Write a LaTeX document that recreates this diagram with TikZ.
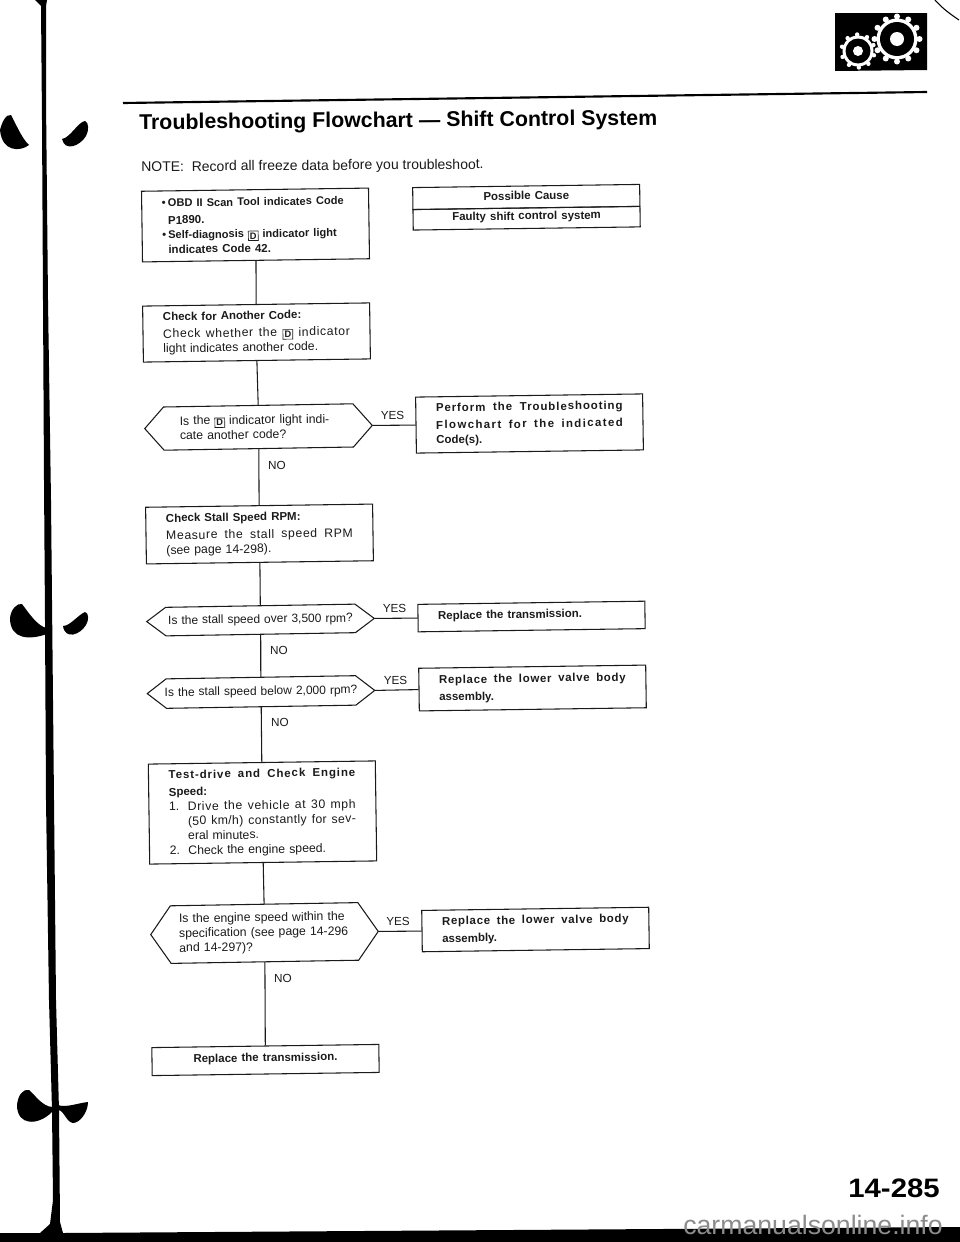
\documentclass[tikz,border=0pt]{standalone}
\usepackage{fontspec}
\setmainfont{Liberation Sans}
\definecolor{ink}{HTML}{1A1A1A}
\newcommand{\DB}{{\setlength{\fboxsep}{0.9pt}\setlength{\fboxrule}{0.5pt}\raisebox{-1pt}{\fbox{\fontsize{7}{7}\selectfont\bfseries D}}}}
\newcommand{\HD}[1]{{\fontsize{8.6}{11}\selectfont\bfseries #1}}
\newcommand{\JL}[3][140pt]{\makebox[#1][s]{\spaceskip=0pt\relax\addfontfeature{LetterSpace=#2}#3}}
\newcommand{\BT}{\makebox[4.5pt][l]{\textbullet}}
\newcommand{\hexa}[2]{\draw[link] (#1.west) -- ([xshift=#2]#1.north west) -- ([xshift=-#2]#1.north east) -- (#1.east) -- ([xshift=-#2]#1.south east) -- ([xshift=#2]#1.south west) -- cycle;}
\tikzset{
  bodyfont/.style={font=\fontsize{9.2}{11}\selectfont},
  boxnode/.style={draw=ink,line width=0.8pt,rectangle,rotate=0.8,minimum width=170.25pt,text width=140pt,inner xsep=15.1pt,inner ysep=0pt,align=left,bodyfont,text=ink,execute at begin node={\vspace*{2pt}}},
  hexnode/.style={rectangle,rotate=0.8,minimum width=170.25pt,inner xsep=0pt,inner ysep=0pt,align=left,bodyfont,text=ink},
  link/.style={draw=ink,line width=0.8pt},
  tag/.style={font=\fontsize{8.8}{10}\selectfont,text=ink,inner sep=0pt},
  blob/.style={fill=black,draw=none}
}
\begin{document}
\begin{tikzpicture}[x=0.75pt,y=-0.75pt]
\useasboundingbox (0,0) rectangle (960,1242);
% spine and base
\fill[black] (35,0) -- (47,0) -- (46,6) -- (46,100) -- (48,300) -- (51,500) -- (53,700) -- (56,1000) -- (59,1110) -- (60,1222) -- (63,1233) -- (960,1227) -- (960,1242) -- (0,1242) -- (0,1233) -- (40,1233) -- (50,1224) -- (53,1200) -- (52,1110) -- (49,1000) -- (46,800) -- (45,620) -- (44,480) -- (43,300) -- (42,120) -- (41,6) -- cycle;
\fill[blob] (0,130) .. controls (2,122) and (6,114) .. (11,115) .. controls (15,122) and (22,139) .. (29,145) .. controls (20,152) and (2,152) .. (0,130) -- cycle;
\fill[blob] (62,139) .. controls (70,138) and (78,122) .. (85,121) .. controls (89,122) and (89,131) .. (86,136) .. controls (80,146) and (65,152) .. (62,139) -- cycle;
\fill[blob] (10,618) .. controls (11,609) and (17,603) .. (22,604) .. controls (28,612) and (38,627) .. (47,628) -- (47,634) .. controls (30,640) and (10,640) .. (10,618) -- cycle;
\fill[blob] (63,626) .. controls (70,626) and (78,615) .. (85,612) .. controls (89,613) and (89,620) .. (86,625) .. controls (80,635) and (65,640) .. (63,626) -- cycle;
\fill[blob] (17,1105) .. controls (18,1096) and (22,1089) .. (29,1090) .. controls (36,1096) and (42,1106) .. (52,1107) -- (52,1112) .. controls (38,1126) and (17,1126) .. (17,1105) -- cycle;
\fill[blob] (58,1105) .. controls (66,1108) and (78,1103) .. (88,1102) .. controls (88,1112) and (80,1123) .. (73,1123) .. controls (66,1122) and (64,1110) .. (58,1110) -- cycle;
% corner icon
\fill[black] (835,13) -- (927,13) -- (927,70) -- (835,71) -- cycle;
\fill[white] (897,39) circle (20.5);
\foreach \a in {0,30,...,330} {\fill[white] (897,39) ++(\a:22.5) circle (3);}
\fill[black] (897,39) circle (17);
\fill[white] (897,39) circle (7);
\fill[white] (858,51) circle (15.5);
\foreach \a in {15,51,...,339} {\fill[white] (858,51) ++(\a:16.5) circle (2.2);}
\fill[black] (858,51) circle (12.5);
\fill[white] (858,51) circle (5);
\draw[line width=0.8pt,black] (935,0) .. controls (942,8) and (950,14) .. (959,20);
\draw[line width=1.6pt,black] (123,103) -- (927,92);
% heading
\node[anchor=west,rotate=0.5,inner sep=0pt,font=\fontsize{16}{18}\selectfont\bfseries,text=black] (title) at (139,124) {Troubleshooting Flowchart --- Shift Control System};
\node[anchor=west,rotate=0.45,inner sep=0pt,font=\fontsize{10.5}{12}\selectfont,text=ink] (note) at (141,168) {NOTE:\ \ Record all freeze data before you troubleshoot.};
% boxes
\node[boxnode,minimum height=53pt] (start) at (255.5,225) {\HD{\fontsize{8.3}{11}\selectfont\BT OBD II Scan Tool indicates Code}\\\hspace*{4.5pt}\HD{P1890.}\\\HD{\fontsize{8.3}{11}\selectfont\BT Self-diagnosis \DB\ indicator light}\\\hspace*{4.5pt}\HD{indicates Code 42.}};
\node[boxnode,minimum height=42pt] (another) at (256.5,332.5) {\HD{Check for Another Code:}\\\JL{5}{Check whether the \DB\ indicator}\\light indicates another code.};
\node[hexnode,minimum height=32pt,text width=118pt] (q1) at (258.5,427) {Is the \DB\ indicator light indi-\\cate another code?};
\node[boxnode,minimum height=42pt] (flow) at (529.5,423.5) {\HD{\JL{8}{Perform the Troubleshooting}}\\\HD{\JL{12}{Flowchart for the indicated}}\\\HD{Code(s).}};
\node[boxnode,minimum height=42.5pt] (stall) at (259.5,534) {\HD{Check Stall Speed RPM:}\\\JL{5}{Measure the stall speed RPM}\\(see page 14-298).};
\node[hexnode,minimum height=21pt,text width=150pt,align=center,font=\fontsize{9}{11}\selectfont] (q2) at (260.5,620) {Is the stall speed over 3,500 rpm?};
\node[boxnode,minimum height=20.6pt] (trans1) at (531.5,616.5) {\HD{Replace the transmission.}};
\node[hexnode,minimum height=21.7pt,text width=150pt,align=center,font=\fontsize{9}{11}\selectfont] (q3) at (261,692) {Is the stall speed below 2,000 rpm?};
\node[boxnode,minimum height=32pt] (valve1) at (532.5,688) {\HD{\JL{6}{Replace the lower valve body}}\\\HD{assembly.}};
\node[boxnode,minimum height=75pt] (drive) at (262.5,812.5) {\HD{\JL{8}{Test-drive and Check Engine}}\\\HD{Speed:}\\\makebox[14pt][l]{1.}\JL[126pt]{5}{Drive the vehicle at 30 mph}\\\hspace*{14pt}\JL[126pt]{3}{(50 km/h) constantly for sev-}\\\hspace*{14pt}eral minutes.\\\makebox[14pt][l]{2.}Check the engine speed.};
\node[hexnode,minimum height=42.8pt,text width=128pt] (q4) at (264.5,933) {Is the engine speed within the\\specification (see page 14-296\\and 14-297)?};
\node[boxnode,minimum height=31pt] (valve2) at (535.5,929.5) {\HD{\JL{6}{Replace the lower valve body}}\\\HD{assembly.}};
\node[boxnode,minimum height=21pt,align=center] (trans2) at (265.5,1060) {\HD{Replace the transmission.}};
\node[boxnode,minimum height=16.5pt,align=center] (causehead) at (526.3,197) {\HD{Possible Cause}};
\node[boxnode,minimum height=15.4pt,align=center] (causebody) at (526.6,218.2) {\HD{Faulty shift control system}};
% decision outlines
\hexa{q1}{14.3pt}
\hexa{q2}{14.3pt}
\hexa{q3}{14.3pt}
\hexa{q4}{15pt}
% connectors
\draw[link] (start.south) -- (another.north);
\draw[link] (another.south) -- (q1.north);
\draw[link] (q1.east) -- (flow.west);
\draw[link] (q1.south) -- (stall.north);
\draw[link] (stall.south) -- (q2.north);
\draw[link] (q2.east) -- (trans1.west);
\draw[link] (q2.south) -- (q3.north);
\draw[link] (q3.east) -- (valve1.west);
\draw[link] (q3.south) -- (drive.north);
\draw[link] (drive.south) -- (q4.north);
\draw[link] (q4.east) -- (valve2.west);
\draw[link] (q4.south) -- (trans2.north);
% labels
\node[tag] (y1) at (392.5,415) {YES};
\node[tag] (n1) at (277,465) {NO};
\node[tag] (y2) at (394.5,608) {YES};
\node[tag] (n2) at (279,650) {NO};
\node[tag] (y3) at (395.5,680) {YES};
\node[tag] (n3) at (280,722) {NO};
\node[tag] (y4) at (398,921) {YES};
\node[tag] (n4) at (283,978) {NO};
% page number and watermark
\node[anchor=east,inner sep=0pt,xscale=1.1,font=\fontsize{20}{22}\selectfont\bfseries,text=black] (page) at (940,1188) {14-285};
\node[anchor=east,inner sep=0pt,font=\fontsize{20}{22}\selectfont,text=black!45] (mark) at (943,1225) {carmanualsonline.info};
\end{tikzpicture}
\end{document}
